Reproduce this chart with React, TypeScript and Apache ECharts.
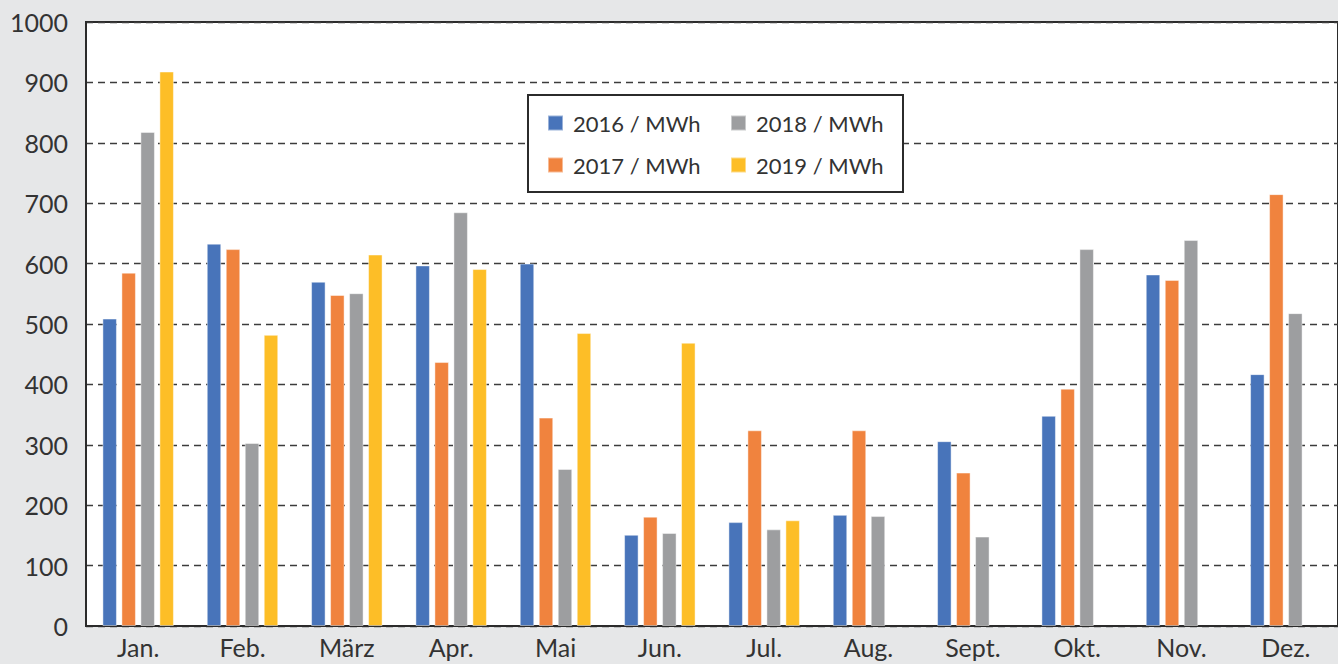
import React, { useEffect, useRef } from "react";
import * as echarts from "echarts";

const months = ["Jan.", "Feb.", "März", "Apr.", "Mai", "Jun.", "Jul.", "Aug.", "Sept.", "Okt.", "Nov.", "Dez."];
const s2016 = [509, 633, 570, 597, 600, 151, 172, 184, 306, 348, 582, 417];
const s2017 = [585, 624, 548, 437, 345, 181, 324, 324, 254, 393, 573, 715];
const s2018 = [818, 303, 551, 685, 260, 154, 160, 182, 148, 624, 639, 518];
const s2019 = [918, 482, 615, 591, 485, 469, 175, null, null, null, null, null];
const yTicks = { min: 0, max: 1000, interval: 100 };

const seriesDefs = [
  { name: "2016 / MWh", data: s2016, color: "#4874BA" },
  { name: "2017 / MWh", data: s2017, color: "#F0833E" },
  { name: "2018 / MWh", data: s2018, color: "#9D9EA0" },
  { name: "2019 / MWh", data: s2019, color: "#FDBE27" },
];

const FONT = "Lato, 'Open Sans', sans-serif";

export default function App() {
  const ref = useRef<HTMLDivElement>(null);
  useEffect(() => {
    if (!ref.current) return;
    const chart = echarts.init(ref.current, undefined, { renderer: "svg" });
    chart.setOption({
      animation: false,
      backgroundColor: "#E6E7E8",
      textStyle: { fontFamily: FONT },
      grid: {
        left: 86,
        top: 22,
        right: -8,
        bottom: 38,
        show: true,
        backgroundColor: "#FFFFFF",
        borderColor: "#2b2b2b",
        borderWidth: 2,
        containLabel: false,
      },
      legend: {
        left: 528,
        top: 95,
        width: 380,
        orient: "horizontal",
        data: ["2016 / MWh", "2018 / MWh", "2017 / MWh", "2019 / MWh"],
        itemWidth: 15,
        itemHeight: 15,
        itemGap: 18,
        icon: "rect",
        backgroundColor: "#FFFFFF",
        borderColor: "#2b2b2b",
        borderWidth: 2,
        borderRadius: 0,
        padding: [16, 8, 15, 19],
        textStyle: {
          fontFamily: FONT,
          fontSize: 22,
          color: "#333333",
          width: 139,
          lineHeight: 24,
          padding: [0, 0, 0, 5],
        },
      },
      xAxis: {
        type: "category",
        data: months,
        axisTick: { show: false },
        axisLine: { show: true, lineStyle: { color: "#2b2b2b", width: 2 } },
        axisLabel: { fontFamily: FONT, fontSize: 25, color: "#333333", margin: 8 },
        splitLine: { show: false },
      },
      yAxis: {
        type: "value",
        min: yTicks.min,
        max: yTicks.max,
        interval: yTicks.interval,
        axisLine: { show: true, lineStyle: { color: "#2b2b2b", width: 2 } },
        axisTick: { show: false },
        axisLabel: {
          fontFamily: FONT,
          fontSize: 25,
          color: "#333333",
          margin: 18,
          formatter: (v: number) => String(v),
        },
        splitLine: { show: true, lineStyle: { color: "#3c3c3c", width: 1.3, type: [7, 5] } },
      },
      series: seriesDefs.map((s) => ({
        name: s.name,
        type: "bar",
        data: s.data,
        barWidth: 14.5,
        barGap: "31%",
        itemStyle: { color: s.color, borderColor: "rgba(255,255,255,0.45)", borderWidth: 1 },
      })),
    });
    return () => chart.dispose();
  }, []);
  return <div ref={ref} style={{ position: "fixed", left: 0, top: 0, width: 1338, height: 664 }} />;
}
